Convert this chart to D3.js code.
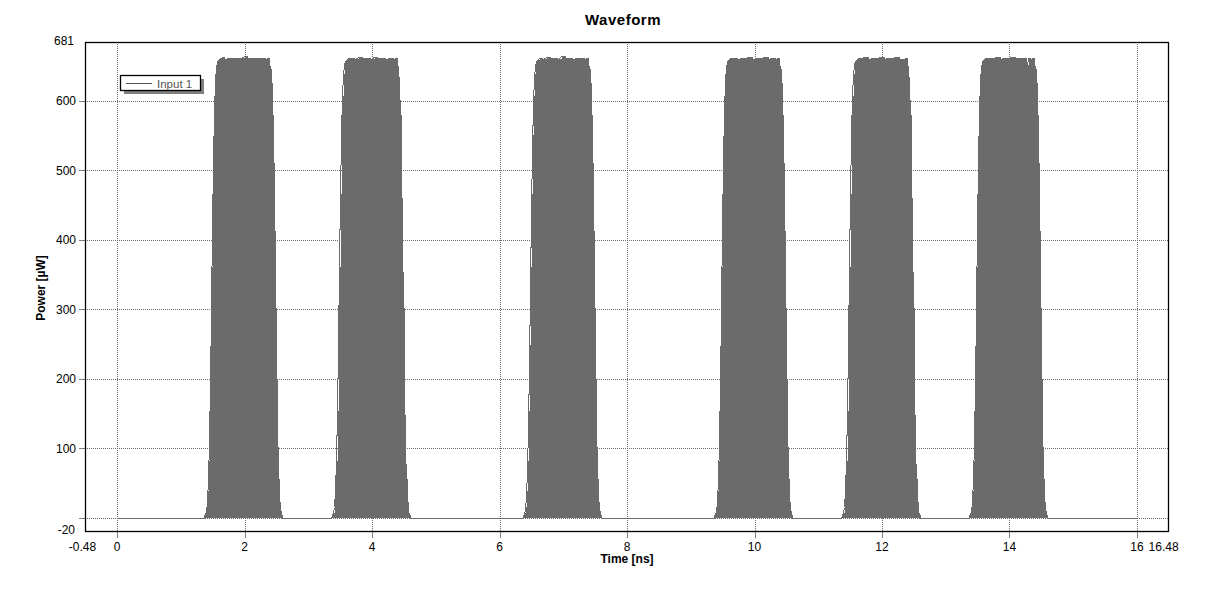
<!DOCTYPE html>
<html><head><meta charset="utf-8">
<script src="https://cdn.jsdelivr.net/npm/d3@7"></script>
<style>body{margin:0;background:#fff}svg text{font-family:Arial,"Liberation Sans",sans-serif}</style>
</head><body><svg id="c" width="1206" height="589"></svg>
<script>
// ---- data ----
const chartTitle = "Waveform";
const xTitle = "Time [ns]";
const yTitle = "Power [µW]";
const seriesName = "Input 1";
const xDomain = [-0.48, 16.48];
const yDomain = [-20, 681];
const xTicks = [0, 2, 4, 6, 8, 10, 12, 14, 16];
const yTicks = [0, 100, 200, 300, 400, 500, 600];
const yTickLabels = ["", "100", "200", "300", "400", "500", "600"];
const xEdgeLabels = ["-0.48", "16.48"];
const yEdgeLabels = ["-20", "681"];
const signalSpan = [0, 16];
// envelope of each optical pulse: [time ns, power µW]
const pulse1 = [[1.365,0],[1.380,3],[1.396,7],[1.412,15],[1.427,38],[1.443,81],[1.459,153],[1.475,249],[1.490,361],[1.506,465],[1.522,551],[1.537,607],[1.553,638],[1.569,653],[1.584,657],[1.600,659],[1.631,661],
  [1.66,663],[1.70,660],[1.74,662],[1.78,661],[1.86,661],[1.867,650],[1.873,661],[1.95,662],[2.00,664],[2.05,661],[2.13,662],[2.138,655],[2.145,661],[2.22,662],[2.30,661],[2.34,658],
  [2.369,661],[2.400,650],[2.416,646],[2.431,626],[2.447,580],[2.463,511],[2.478,412],[2.494,301],[2.510,200],[2.525,101],[2.541,55],[2.557,23],[2.573,9],[2.588,3],[2.604,0]];
const pulse2 = [[3.365,0],[3.380,3],[3.396,7],[3.412,15],[3.427,38],[3.443,81],[3.459,153],[3.475,249],[3.490,361],[3.506,465],[3.522,551],[3.537,607],[3.553,638],[3.569,653],[3.584,657],[3.600,659],[3.631,661],
  [3.68,662],[3.74,660],[3.80,663],[3.86,661],[3.92,662],[3.98,660],[4.04,663],[4.10,661],[4.16,662],[4.22,660],[4.28,662],[4.34,659],
  [4.369,661],[4.400,650],[4.416,646],[4.431,626],[4.447,580],[4.463,511],[4.478,412],[4.494,301],[4.510,200],[4.525,101],[4.541,55],[4.557,23],[4.573,9],[4.588,3],[4.604,0]];
const pulse3 = [[6.365,0],[6.380,3],[6.396,7],[6.412,15],[6.427,38],[6.443,81],[6.459,153],[6.475,249],[6.490,361],[6.506,465],[6.522,551],[6.537,607],[6.553,638],[6.569,653],[6.584,657],[6.600,659],[6.631,661],
  [6.68,660],[6.74,663],[6.80,661],[6.86,662],[6.92,660],[6.98,664],[7.04,661],[7.10,662],[7.16,660],[7.22,662],[7.28,661],[7.34,658],
  [7.369,661],[7.400,650],[7.416,646],[7.431,626],[7.447,580],[7.463,511],[7.478,412],[7.494,301],[7.510,200],[7.525,101],[7.541,55],[7.557,23],[7.573,9],[7.588,3],[7.604,0]];
const pulse4 = [[9.365,0],[9.380,3],[9.396,7],[9.412,15],[9.427,38],[9.443,81],[9.459,153],[9.475,249],[9.490,361],[9.506,465],[9.522,551],[9.537,607],[9.553,638],[9.569,653],[9.584,657],[9.600,659],[9.631,661],
  [9.68,662],[9.74,660],[9.80,662],[9.86,661],[9.92,663],[9.98,660],[10.04,662],[10.10,661],[10.16,663],[10.22,660],[10.28,662],[10.34,659],
  [10.369,661],[10.400,650],[10.416,646],[10.431,626],[10.447,580],[10.463,511],[10.478,412],[10.494,301],[10.510,200],[10.525,101],[10.541,55],[10.557,23],[10.573,9],[10.588,3],[10.604,0]];
const pulse5 = [[11.365,0],[11.380,3],[11.396,7],[11.412,15],[11.427,38],[11.443,81],[11.459,153],[11.475,249],[11.490,361],[11.506,465],[11.522,551],[11.537,607],[11.553,638],[11.569,653],[11.584,657],[11.600,659],[11.631,661],
  [11.68,661],[11.74,663],[11.80,660],[11.86,662],[11.92,661],[11.98,663],[12.04,660],[12.10,662],[12.16,661],[12.22,663],[12.28,660],[12.34,658],
  [12.369,661],[12.400,650],[12.416,646],[12.431,626],[12.447,580],[12.463,511],[12.478,412],[12.494,301],[12.510,200],[12.525,101],[12.541,55],[12.557,23],[12.573,9],[12.588,3],[12.604,0]];
const pulse6 = [[13.365,0],[13.380,3],[13.396,7],[13.412,15],[13.427,38],[13.443,81],[13.459,153],[13.475,249],[13.490,361],[13.506,465],[13.522,551],[13.537,607],[13.553,638],[13.569,653],[13.584,657],[13.600,659],[13.631,661],
  [13.68,662],[13.74,661],[13.80,663],[13.86,660],[13.92,662],[13.98,661],[14.04,663],[14.10,661],[14.16,662],[14.24,661],[14.28,651],[14.30,661],[14.34,659],
  [14.369,661],[14.400,650],[14.416,646],[14.431,626],[14.447,580],[14.463,511],[14.478,412],[14.494,301],[14.510,200],[14.525,101],[14.541,55],[14.557,23],[14.573,9],[14.588,3],[14.604,0]];

// ---- drawing ----
const svg = d3.select("#c");
const frame = {l: 85, r: 1169, t: 42, b: 532};
const x = d3.scaleLinear().domain(xDomain).range([86.4, 1167.6]);
const y = d3.scaleLinear().domain(yDomain).range([531.4, 44.4]);
const grey = "#808080";
const waveColor = "#6b6b6b";

svg.append("rect").attr("width", 1206).attr("height", 589).attr("fill", "#fff");

svg.append("text").attr("x", 623).attr("y", 25).attr("text-anchor", "middle")
  .attr("font-size", 15).attr("font-weight", "bold").attr("letter-spacing", 0.5).attr("fill", "#000").text(chartTitle);

// gridlines
const g = svg.append("g").attr("shape-rendering", "crispEdges");
g.selectAll(".vg").data(xTicks).join("line")
  .attr("x1", d => Math.round(x(d)) + 0.5).attr("x2", d => Math.round(x(d)) + 0.5)
  .attr("y1", frame.t).attr("y2", frame.b)
  .attr("stroke", "#6e6e6e").attr("stroke-dasharray", "1,1");
g.selectAll(".hg").data(yTicks).join("line")
  .attr("y1", d => Math.round(y(d)) + 0.5).attr("y2", d => Math.round(y(d)) + 0.5)
  .attr("x1", frame.l).attr("x2", frame.r)
  .attr("stroke", "#6e6e6e").attr("stroke-dasharray", "1,1");
// outside tick marks
g.selectAll(".xt").data(xTicks).join("line")
  .attr("x1", d => Math.round(x(d)) + 0.5).attr("x2", d => Math.round(x(d)) + 0.5)
  .attr("y1", frame.b).attr("y2", frame.b + 6).attr("stroke", grey);
g.selectAll(".yt").data(yTicks).join("line")
  .attr("y1", d => Math.round(y(d)) + 0.5).attr("y2", d => Math.round(y(d)) + 0.5)
  .attr("x1", frame.l - 6).attr("x2", frame.l).attr("stroke", grey);

// waveform
const series = [[signalSpan[0], 0], ...pulse1, ...pulse2, ...pulse3, ...pulse4, ...pulse5, ...pulse6, [signalSpan[1], 0]];
svg.append("path").datum(series)
  .attr("d", d3.area().curve(d3.curveStepAfter).x(d => x(d[0])).y0(y(0)).y1(d => y(d[1])))
  .attr("fill", waveColor).attr("shape-rendering", "crispEdges");
svg.append("path").datum(series)
  .attr("d", d3.line().x(d => x(d[0])).y(d => Math.round(y(d[1])) + 0.5))
  .attr("fill", "none").attr("stroke", waveColor).attr("stroke-width", 1).attr("shape-rendering", "crispEdges");

// frame
svg.append("rect").attr("x", frame.l + 0.5).attr("y", frame.t + 0.5)
  .attr("width", frame.r - frame.l - 1).attr("height", frame.b - frame.t - 1)
  .attr("fill", "none").attr("stroke", "#000").attr("stroke-width", 1.3);

// tick labels
svg.selectAll(".xl").data(xTicks).join("text")
  .attr("x", d => x(d)).attr("y", 551).attr("text-anchor", "middle")
  .attr("font-size", 12).attr("fill", "#000").text(d => d);
svg.append("text").attr("x", x(xDomain[0]) - 4).attr("y", 551).attr("text-anchor", "middle")
  .attr("font-size", 12).text(xEdgeLabels[0]);
svg.append("text").attr("x", x(xDomain[1]) - 4).attr("y", 551).attr("text-anchor", "middle")
  .attr("font-size", 12).text(xEdgeLabels[1]);
svg.selectAll(".yl").data(yTicks).join("text")
  .attr("x", 76).attr("y", d => y(d) + 4.5).attr("text-anchor", "end")
  .attr("font-size", 12).text((d, i) => yTickLabels[i]);
svg.append("text").attr("x", 75).attr("y", y(yDomain[0]) + 2.5).attr("text-anchor", "end")
  .attr("font-size", 12).text(yEdgeLabels[0]);
svg.append("text").attr("x", 74).attr("y", y(yDomain[1]) + 0.5).attr("text-anchor", "end")
  .attr("font-size", 12).text(yEdgeLabels[1]);

// axis titles
svg.append("text").attr("x", 627).attr("y", 563).attr("text-anchor", "middle")
  .attr("font-size", 12).attr("font-weight", "bold").text(xTitle);
svg.append("text").attr("transform", "translate(45,288) rotate(-90)").attr("text-anchor", "middle")
  .attr("font-size", 12).attr("font-weight", "bold").text(yTitle);

// legend
const lg = svg.append("g");
lg.append("rect").attr("x", 124).attr("y", 79).attr("width", 80).attr("height", 15).attr("fill", grey);
lg.append("rect").attr("x", 120.5).attr("y", 75.5).attr("width", 80).attr("height", 15)
  .attr("fill", "#fff").attr("stroke", "#000").attr("stroke-width", 1.3);
lg.append("line").attr("x1", 126).attr("x2", 152).attr("y1", 83.5).attr("y2", 83.5)
  .attr("stroke", "#555").attr("stroke-width", 1);
lg.append("text").attr("x", 157).attr("y", 87.5).attr("font-size", 11.5).attr("fill", "#555").text(seriesName);
</script></body></html>
